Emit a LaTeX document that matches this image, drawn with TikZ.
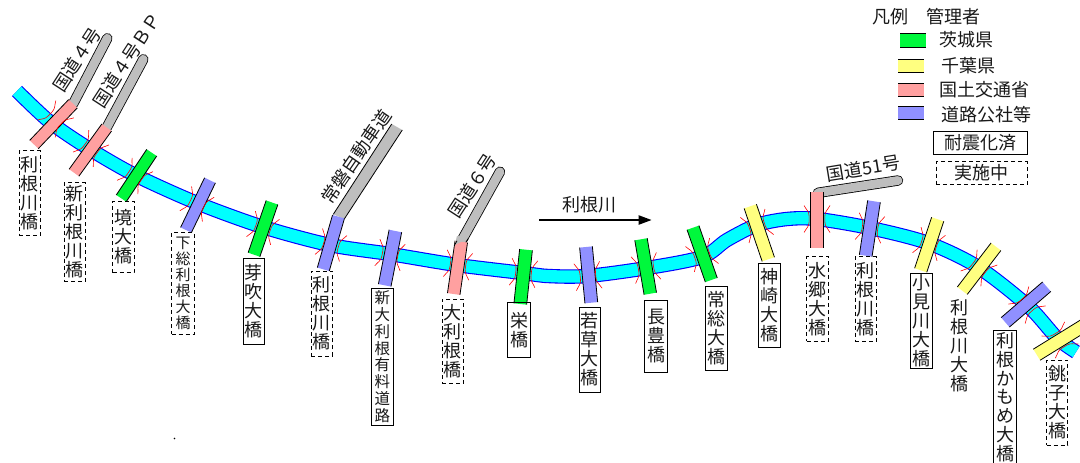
\documentclass[tikz,border=0pt]{standalone}
\usepackage{fontspec}
\setmainfont{Noto Sans CJK JP}
\usetikzlibrary{calc,arrows.meta}
\definecolor{cgreen}{HTML}{00F83C}
\definecolor{cyellow}{HTML}{FFFF80}
\definecolor{cpink}{HTML}{FFA0A0}
\definecolor{cpurple}{HTML}{9090FF}
\definecolor{croad}{HTML}{BEBEBE}
\definecolor{criver}{HTML}{00FFFF}
\definecolor{cbank}{HTML}{0000FF}
\definecolor{cmark}{HTML}{FF0000}
\tikzset{
  lblsolid/.style={draw=black,line width=.7pt,inner sep=0pt,align=center,text=black!90},
  lbldash/.style={draw=black,line width=.7pt,dash pattern=on 4pt off 3pt,inner sep=0pt,align=center,text=black!90},
  lblplain/.style={inner sep=0pt,align=center,text=black!90},
  tag/.style={inner sep=0pt,text=black!90,font=\fontsize{18}{19}\selectfont},
  barside/.style={black,line width=.8pt},
  bankmark/.style={cmark,line width=.6pt},
}
% name, top x,y, bottom x,y, half width, colour, crossing x,y
\newcommand{\crossbar}[9]{%
  \coordinate (#1a) at (#2,#3);
  \coordinate (#1b) at (#4,#5);
  \fill[#7] ($(#1a)!#6pt!90:(#1b)$) -- ($(#1a)!#6pt!-90:(#1b)$) -- ($(#1b)!#6pt!90:(#1a)$) -- ($(#1b)!#6pt!-90:(#1a)$) -- cycle;
  \draw[barside] ($(#1a)!#6pt!90:(#1b)$) -- ($(#1b)!#6pt!-90:(#1a)$);
  \draw[barside] ($(#1a)!#6pt!-90:(#1b)$) -- ($(#1b)!#6pt!90:(#1a)$);
  \pgfmathsetmacro\barang{atan2(#5-#3,#2-#4)}
  \begin{scope}[shift={(#8,#9)},rotate=\barang]
    \foreach \s in {-1,1}{
      \draw[bankmark] (13.5,{\s*(#6+6.5)}) .. controls (9,{\s*(#6+4)}) and (7.5,{\s*(#6+1.4)}) .. (3,{\s*(#6+1.4)})
        -- (-3,{\s*(#6+1.4)}) .. controls (-7.5,{\s*(#6+1.4)}) and (-9,{\s*(#6+4)}) .. (-13.5,{\s*(#6+6.5)});
    }
  \end{scope}
}
% name, x1,y1,x2,y2, style, size, line spacing, text
\newcommand{\vlabel}[9]{%
  \node[#6,minimum width={#4-#2},minimum height={#5-#3},font=\fontsize{#7}{#8}\selectfont]
    (#1) at ({(#2+#4)/2},{(#3+#5)/2}) {#9};
}
\newcommand{\roadline}[5]{%
  \coordinate (#1s) at (#2,#3);
  \coordinate (#1e) at (#4,#5);
  \draw[black,line width=10.4pt,line cap=round] (#1s) -- (#1e);
  \draw[croad,line width=8.8pt,line cap=round] (#1s) -- (#1e);
}
\newcommand{\swatch}[5]{%
  \fill[#5] (#1,#2) rectangle (#3,#4);
  \draw[black,line width=.7pt] (#1,#2) -- (#3,#2);
  \draw[black,line width=.7pt] (#1,#4) -- (#3,#4);
}
\begin{document}
\begin{tikzpicture}[x=1pt,y=-1pt]
\useasboundingbox (0,0) rectangle (1080,463);
\fill[white] (0,0) rectangle (1080,463);
% river
\def\rivercoords{(17,91) (50,122) (88,148) (135,175) (197,203) (263,227) (330,245) (390,254) (457,265) (523,273) (548,276) (587,276) (647,268) (702,257) (727,240) (757,225) (787,219) (817,219) (870,228) (928,243) (978,267) (1028,306) (1057,338) (1076,352)}
\draw[cbank,line width=14.4pt] plot[smooth,tension=.5] coordinates {\rivercoords};
\draw[criver,line width=12.2pt] plot[smooth,tension=.5] coordinates {\rivercoords};
% roads under the bars
\roadline{r1}{73}{104}{107.3}{38.3}
\roadline{r2}{106.7}{127.5}{143.3}{59.3}
\roadline{r8}{462}{240}{500}{171.7}
\roadline{r14}{818}{192.8}{898}{180.5}
\coordinate (r6a) at (333.3,214.3);
\coordinate (r6b) at (391.7,124);
\coordinate (r6c) at (402.3,130);
\coordinate (r6d) at (344.3,219);
\fill[croad] (r6a) -- (r6b) -- (r6c) -- (r6d) -- cycle;
\draw[black,line width=.8pt] (r6a) -- (r6b);
\draw[black,line width=.8pt] (r6c) -- (r6d);
% bridges
\crossbar{b1}{73}{103.7}{34}{144.5}{6}{cpink}{55.5}{119}
\crossbar{b2}{106.7}{127.5}{74}{172.7}{6}{cpink}{91}{148.5}
\crossbar{b3}{151.7}{152.7}{121.3}{198.3}{6}{cgreen}{135}{176}
\crossbar{b4}{210}{180.3}{186}{230}{6}{cpurple}{197}{204}
\crossbar{b5}{272}{202.5}{254}{254.7}{6.2}{cgreen}{263}{228}
\crossbar{b6}{338.5}{216.7}{323.3}{269.3}{6.2}{cpurple}{331}{245}
\crossbar{b7}{395.4}{231}{384.7}{285.3}{6.4}{cpurple}{390}{255}
\crossbar{b8}{461.3}{241.7}{453.7}{294}{6.3}{cpink}{458}{265}
\crossbar{b9}{526}{249.7}{520.3}{304}{6.4}{cgreen}{523.5}{273}
\crossbar{b10}{586}{247}{591.3}{302.7}{6.4}{cpurple}{588}{276}
\crossbar{b11}{641}{239.3}{650.3}{293.7}{6.3}{cgreen}{646}{268}
\crossbar{b12}{693}{227.7}{711.3}{280}{6.3}{cgreen}{702}{255}
\crossbar{b13}{750.3}{206.3}{768.3}{259.3}{6.5}{cyellow}{757}{226}
\crossbar{b14}{816.7}{192.3}{816.7}{247.7}{6.5}{cpink}{817}{219}
\crossbar{b15}{874}{201.3}{865.7}{255.7}{6.4}{cpurple}{870}{228}
\crossbar{b16}{937.7}{219.3}{920.7}{270.3}{6.4}{cyellow}{929}{244}
\crossbar{b17}{996}{246.7}{962.3}{290.7}{6.2}{cyellow}{979}{268}
\crossbar{b18}{1046.7}{286.7}{1005.3}{322.3}{6.3}{cpurple}{1027}{305}
\crossbar{b19}{1088}{323}{1036.7}{354.7}{6.5}{cyellow}{1060}{340}
% 6 gou: gray cap over pink bar
\coordinate (r8l) at (454.6,245);
\coordinate (r8r) at (468.3,238.5);
\fill[croad] (r8l) -- (r8r) -- (466,236) -- (457,236) -- cycle;
\draw[black,line width=.8pt] (r8l) -- (457,240.8);
\draw[black,line width=.8pt] (r8r) -- (466,242);
% bridge labels
\vlabel{l1}{19.3}{150.7}{40.3}{235.7}{lbldash}{18}{19}{利\\根\\川\\橋}
\vlabel{l2}{64}{182.7}{85.3}{281.3}{lbldash}{18}{19}{新\\利\\根\\川\\橋}
\vlabel{l3}{112.7}{201.3}{134}{272.7}{lbldash}{18}{19}{境\\大\\橋}
\vlabel{l4}{171.7}{232.7}{194.3}{334}{lbldash}{15}{16}{下\\総\\利\\根\\大\\橋}
\vlabel{l5}{243.3}{258.3}{264.3}{344}{lblsolid}{18}{19}{芽\\吹\\大\\橋}
\vlabel{l6}{311}{271}{332.3}{356}{lbldash}{18}{19}{利\\根\\川\\橋}
\vlabel{l7}{371.7}{288.3}{393}{425}{lblsolid}{15.5}{16.8}{新\\大\\利\\根\\有\\料\\道\\路}
\vlabel{l8}{442.3}{299}{463.3}{383.7}{lbldash}{18}{19}{大\\利\\根\\橋}
\vlabel{l9}{507.7}{302.3}{530.3}{357.3}{lblsolid}{18}{19}{栄\\橋}
\vlabel{l10}{579.3}{307.3}{600.3}{392}{lblsolid}{18}{19}{若\\草\\大\\橋}
\vlabel{l11}{644.7}{300.7}{667.3}{372.3}{lblsolid}{18}{19}{長\\豊\\橋}
\vlabel{l12}{705.7}{286}{727}{370.7}{lblsolid}{18}{19}{常\\総\\大\\橋}
\vlabel{l13}{758.7}{263}{780.3}{347.7}{lblsolid}{18}{19}{神\\崎\\大\\橋}
\vlabel{l14}{806.7}{256.7}{828.3}{341.3}{lbldash}{18}{19}{水\\郷\\大\\橋}
\vlabel{l15}{855}{256.7}{876.3}{341.3}{lbldash}{18}{19}{利\\根\\川\\橋}
\vlabel{l16}{910.7}{273.3}{932}{368.3}{lblsolid}{18}{19}{小\\見\\川\\大\\橋}
\vlabel{l17}{949}{301}{970}{391}{lblplain}{18}{19}{利\\根\\川\\大\\橋}
\vlabel{l18}{993.7}{330.3}{1016.7}{464}{lblsolid}{18}{18.8}{利\\根\\か\\も\\め\\大\\橋}
\vlabel{l19}{1046.7}{360}{1067.7}{445}{lbldash}{18}{19}{銚\\子\\大\\橋}
% road names
\node[tag,rotate=57] (t1) at (77,60) {国道４号};
\node[tag,rotate=57] (t2) at (126.7,60) {国道４号ＢＰ};
\node[tag,rotate=55.5] (t6) at (356,156.7) {常磐自動車道};
\node[tag,rotate=57] (t8) at (472.3,185.7) {国道６号};
\node[tag,rotate=9.3] (t14) at (863.3,168.3) {国道51号};
% river name
\node[tag] (rn) at (589.3,205) {利根川};
\coordinate (ara) at (539.3,220);
\coordinate (arb) at (651.7,220);
\draw[black,line width=2pt,-{Triangle[length=13pt,width=9pt]}] (ara) -- (arb);
% legend
\node[tag] (lg0) at (926.7,16.7) {凡例　管理者};
\swatch{900}{33.3}{925.7}{47.7}{cgreen}
\swatch{898}{59}{924}{72.3}{cyellow}
\swatch{898}{83.3}{924}{96.7}{cpink}
\swatch{898}{106.3}{924}{119.7}{cpurple}
\node[tag] (lg1) at (966,40) {茨城県};
\node[tag] (lg2) at (968.3,65.7) {千葉県};
\node[tag] (lg3) at (984.3,90) {国土交通省};
\node[tag] (lg4) at (986.7,115) {道路公社等};
\node[tag,draw=black,line width=.7pt,minimum width=94pt,minimum height=23.4pt] (lg5) at (980.3,143) {耐震化済};
\node[tag,draw=black,line width=.7pt,dash pattern=on 4pt off 3pt,minimum width=91.3pt,minimum height=22.6pt] (lg6) at (981.6,173) {実施中};
\fill[black] (174.5,438.5) circle (.8pt);
\end{tikzpicture}
\end{document}
